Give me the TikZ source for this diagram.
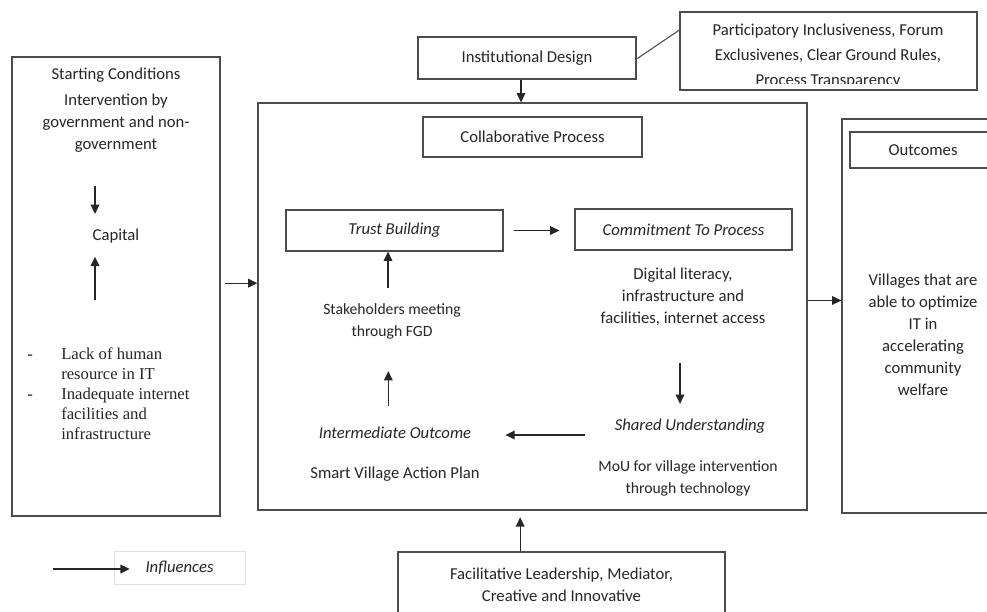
\documentclass[tikz,border=0pt]{standalone}
\usepackage{fontspec}
\setmainfont{Carlito}
\newfontfamily\timesfont{Liberation Serif}
\usetikzlibrary{arrows.meta}
\tikzset{every node/.style={font=\fontsize{12.5}{16.5}\selectfont,text=black!85,inner sep=0pt},
  box/.style={draw=black!70,line width=0.9pt},
  small/.style={font=\fontsize{11.75}{16.5}\selectfont},
  flow/.style={draw=black!85,line width=1pt,-{Triangle[length=7pt,width=6.5pt]}}}

\begin{document}
\begin{tikzpicture}[x=0.75pt,y=-0.75pt]
\clip (0,0) rectangle (987,611);
\fill[white] (0,0) rectangle (987,611);
% starting conditions
\node[box,minimum width=156pt,minimum height=344.25pt] (Start) at (116,286.5) {};
\node (StartTitle) at (116,75) {Starting Conditions};
\node[align=center] (Interv) at (116,123) {Intervention by\\government and non-\\government};
\node (Capital) at (116,236) {Capital};
\node[anchor=north west,font=\timesfont\fontsize{12.5}{15}\selectfont] (Lack) at (27,345)
  {\begin{tabular}{@{}p{25.5pt}@{}l@{}}
   -&Lack of human\\ &resource in IT\\ -&Inadequate internet\\ &facilities and\\ &infrastructure
   \end{tabular}};
% collaborative process
\node[box,minimum width=411.75pt,minimum height=305.25pt] (Main) at (532.5,306.5) {};
\node[box,minimum width=164.25pt,minimum height=30pt] (Collab) at (532.5,137) {Collaborative Process};
\node[box,minimum width=162.75pt,minimum height=30.75pt,font=\fontsize{12.5}{16.5}\selectfont\itshape] (Trust) at (394.5,230.5) {Trust Building};
\node[box,minimum width=162.75pt,minimum height=30.75pt,font=\fontsize{12.5}{16.5}\selectfont\itshape] (Commit) at (683.5,229.5) {Commitment To Process};
\node[align=center] (Digital) at (683,297) {Digital literacy,\\infrastructure and\\facilities, internet access};
\node[small,align=center] (Stake) at (392,321) {Stakeholders meeting\\through FGD};
\node[font=\fontsize{12.5}{16.5}\selectfont\itshape] (Interm) at (395,433) {Intermediate Outcome};
\node (Smart) at (395,474) {Smart Village Action Plan};
\node[font=\fontsize{12.5}{16.5}\selectfont\itshape] (Shared) at (690,426) {Shared Understanding};
\node[small,align=center] (MoU) at (688,478) {MoU for village intervention\\through technology};
% design and leadership
\node[box,minimum width=163.5pt,minimum height=31.5pt] (Inst) at (527,58) {Institutional Design};
\node[box,minimum width=222.75pt,minimum height=58.5pt] (Partic) at (828.5,51) {};
\begin{scope}
\clip (Partic.north west) rectangle (Partic.east |- 0,83);
\node[align=center,font=\fontsize{12.5}{18.5}\selectfont] (PartText) at (828,56) {Participatory Inclusiveness, Forum\\Exclusivenes, Clear Ground Rules,\\Process Transparency};
\end{scope}
\node[box,minimum width=245.25pt,minimum height=54.75pt] (Facil) at (561.5,588.5) {};
\node[align=center] (FacilText) at (561.5,585) {Facilitative Leadership, Mediator,\\Creative and Innovative};
% outcomes
\node[box,minimum width=121.5pt,minimum height=295.5pt] (Outc) at (923,316) {};
\node[box,minimum width=109.5pt,minimum height=27pt] (OutHead) at (923,150) {Outcomes};
\node[align=center] (OutText) at (923,335) {Villages that are\\able to optimize\\IT in\\accelerating\\community\\welfare};
% legend
\node[draw=black!12,minimum width=98.25pt,minimum height=24.75pt,font=\fontsize{12.5}{16.5}\selectfont\itshape] (Key) at (179.5,567.5) {Influences};
\coordinate (KeyStart) at (53,569);

\begin{scope}[flow]
\draw[shorten <=25pt,shorten >=11pt] ([xshift=-15.75pt]Interv.south) -- ([xshift=-15.75pt]Capital.north);
\draw[shorten <=34pt,shorten >=10pt] ([xshift=-15.75pt]Lack.north -| Capital.south) -- ([xshift=-15.75pt]Capital.south);
\draw[shorten <=3pt] ([yshift=2.5pt]Start.east) -- ([yshift=2.5pt]Start.east -| Main.west);
\draw ([xshift=-4.5pt]Inst.south) -- ([xshift=-4.5pt]Inst.south |- Main.north);
\draw[shorten <=7.5pt,shorten >=11.25pt] (Trust.east) -- (Trust.east -| Commit.west);
\draw[shorten <=11pt] ([xshift=-3pt]Stake.north) -- ([xshift=-3pt]Stake.north |- Trust.south);
\draw[shorten <=16pt,shorten >=24pt] ([xshift=-5pt]Interm.north) -- ([xshift=-5pt]Interm.north |- Stake.south);
\draw[shorten <=28pt,shorten >=11pt] ([xshift=-2.25pt]Digital.south) -- ([xshift=-2.25pt]Digital.south |- Shared.north);
\draw[shorten <=22pt,shorten >=25.5pt] ([yshift=-1.5pt]Shared.west |- Interm.east) -- ([yshift=-1.5pt]Interm.east);
\draw ([yshift=4.5pt]Main.east) -- ([yshift=4.5pt]Main.east -| Outc.west);
\draw[shorten >=5pt] ([xshift=-31pt]Facil.north) -- ([xshift=-31pt]Facil.north |- Main.south);
\draw (KeyStart) -- ([xshift=12pt]Key.west |- KeyStart);
\end{scope}
\draw[black!70,line width=0.8pt] ([yshift=-0.75pt]Inst.east) -- ([yshift=15.75pt]Partic.west);
\end{tikzpicture}
\end{document}
